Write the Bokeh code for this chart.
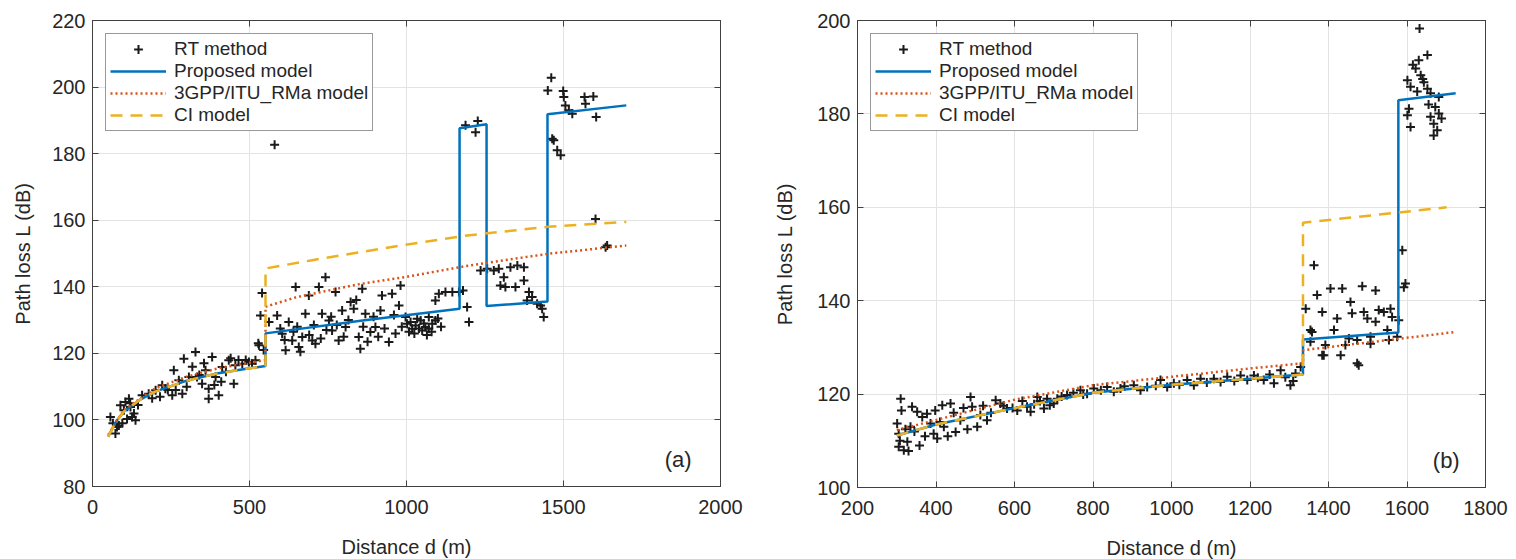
from bokeh.plotting import figure
from bokeh.layouts import row
from bokeh.models import LinearAxis, Range1d, Label, FixedTicker
from bokeh.embed import file_html
from bokeh.resources import INLINE

# ---------------- Panel (a) data ----------------
rt_a_d = [57, 73, 78, 84, 89, 100, 105, 110, 116, 121, 126, 132, 137, 158, 179, 201, 222, 232, 254, 259,
          275, 286, 291, 307, 328, 333, 349, 360, 370, 370, 381, 392, 402, 413, 434, 450, 455, 477, 498, 508,
          519, 530, 535, 540, 528, 562, 580, 588, 604, 615, 625, 636, 647, 657, 668, 678, 689, 700, 710, 721,
          731, 742, 753, 763, 774, 784, 795, 806, 822, 832, 848, 853, 859, 869, 885, 901, 917, 922, 944, 954,
          976, 981, 997, 1002, 1013, 1018, 1029, 1034, 1045, 1050, 1060, 1071, 1071, 1082, 1092, 1092, 1103, 1124, 1146, 1167,
          1180, 1193, 1199, 1188, 1227, 1220, 1236, 1257, 1278, 1294, 1299, 1310, 1315, 1331, 1347, 1353, 1374, 1374, 1384, 1390,
          1400, 1416, 1427, 1432, 1437, 1450, 1461, 1464, 1469, 1480, 1491, 1499, 1501, 1506, 1517, 1528, 1567, 1570, 1595, 1602,
          1604, 1634, 1639]
rt_a_L = [100.9, 95.9, 97.9, 98.3, 104.4, 102.9, 105.4, 100.3, 106.4, 103.9, 100.9, 101.9, 99.9, 107.4, 107.9, 108.9, 110.4, 109.4, 107.4, 114.9,
          111.9, 107.9, 118.4, 112.9, 120.4, 112.9, 110.9, 114.9, 109.4, 106.4, 118.9, 112.9, 107.4, 115.9, 117.9, 110.9, 116.4, 116.9, 117.4, 116.9,
          117.9, 122.4, 131.4, 138.1, 123.0, 129.4, 182.7, 131.4, 125.9, 120.9, 129.4, 123.9, 139.9, 121.9, 124.9, 131.9, 137.4, 123.9, 122.9, 139.9,
          131.9, 142.9, 129.9, 126.9, 138.4, 123.9, 132.9, 127.9, 135.4, 133.4, 124.9, 121.4, 139.4, 131.9, 126.4, 127.9, 132.9, 137.4, 123.4, 137.9,
          134.4, 140.4, 130.9, 128.9, 129.4, 127.4, 128.4, 130.4, 129.9, 126.9, 127.9, 130.9, 127.4, 128.9, 135.9, 129.9, 137.9, 138.4, 138.4, 138.4,
          138.9, 133.9, 129.4, 188.5, 189.8, 186.4, 144.9, 145.4, 144.9, 145.4, 140.4, 142.9, 139.9, 145.9, 139.9, 146.4, 145.9, 141.9, 135.9, 138.4,
          136.9, 134.9, 134.4, 133.4, 130.9, 199.0, 202.8, 184.5, 184.0, 181.0, 179.5, 198.8, 197.0, 194.5, 193.0, 192.0, 197.0, 195.0, 197.2, 160.4,
          191.0, 151.9, 152.4]
rt_a_d_more = [65, 95, 120, 145, 190, 215, 240, 265, 300, 318, 340, 355, 388, 410, 425, 440, 465, 488, 545,
               598, 612, 640, 652, 662, 690, 705, 727, 745, 760, 778, 800, 815, 840, 862, 876, 895, 910, 930, 960,
               965, 985, 1008, 1025, 1040, 1055, 1065, 1080, 1100, 1110]
rt_a_L_more = [99.0, 99.0, 105.0, 104.5, 106.5, 107.0, 109.0, 109.0, 110.0, 116.0, 113.5, 117.0, 110.5, 111.5, 114.5, 118.5, 118.0, 118.0, 121.0,
               127.5, 124.0, 126.5, 128.0, 120.5, 125.5, 128.5, 124.5, 127.0, 131.0, 128.5, 125.0, 130.0, 136.0, 128.0, 123.5, 131.0, 125.0, 127.5, 131.5,
               126.0, 128.0, 126.5, 126.0, 127.5, 129.0, 125.5, 126.5, 130.5, 128.0]

prop_a_d = [50, 75, 100, 150, 200, 300, 400, 500, 551, 551, 860, 1169, 1169, 1255, 1255, 1449, 1449, 1700]
prop_a_L = [95.0, 99.5, 102.5, 106.0, 108.5, 111.8, 114.0, 115.5, 116.2, 126.0, 129.9, 133.4, 187.6, 188.8, 134.2, 135.6, 191.8, 194.5]

gpp_a_d = [50, 100, 200, 300, 400, 500, 551, 551, 650, 850, 1000, 1200, 1450, 1700]
gpp_a_L = [95.5, 103.0, 109.5, 113.0, 115.5, 117.2, 118.0, 134.0, 136.9, 140.8, 143.0, 146.4, 149.9, 152.4]

ci_a_d = [50, 75, 100, 150, 200, 300, 400, 500, 551, 551, 700, 981, 1193, 1448, 1700]
ci_a_L = [95.0, 99.5, 102.5, 106.0, 108.5, 111.8, 114.0, 115.5, 116.2, 145.5, 148.0, 152.4, 155.4, 158.0, 159.5]

# ---------------- Panel (b) data ----------------
rt_b_d = [301, 305, 305, 310, 318, 327, 335, 339, 352, 365, 377, 386, 394, 403, 416, 420, 437, 450, 462, 488,
          492, 505, 513, 530, 552, 564, 581, 607, 632, 641, 658, 675, 683, 700, 709, 734, 768, 785, 802, 836,
          853, 870, 904, 921, 938, 972, 989, 1006, 1040, 1057, 1074, 1108, 1125, 1142, 1176, 1193, 1210, 1235, 1261, 1278,
          1303, 1316, 1329, 1358, 1384,
          1652, 1630, 1622, 1635, 1601, 1643, 1652, 1609, 1660, 1681, 1605, 1601, 1609, 1660, 1681, 1668, 1677, 1668, 1632,
          1588, 1592, 1596, 1363, 1405, 1435, 1486, 1520, 1371, 1342, 1456, 1384, 1422, 1460, 1490, 1499, 1520, 1528, 1541, 1558,
          1562, 1579, 1354, 1414, 1452, 1507, 1550, 1354, 1392, 1443, 1473, 1507, 1554, 1575, 1388, 1431, 1473, 1477]
rt_b_L = [113.7, 111.5, 108.7, 119.0, 108.0, 109.8, 113.0, 117.3, 116.2, 115.1, 115.8, 113.7, 111.5, 110.5, 117.6, 113.0, 118.0, 111.9, 114.4, 119.4,
          117.3, 113.0, 115.5, 114.4, 118.7, 118.0, 116.9, 116.5, 117.3, 116.2, 119.4, 116.9, 119.0, 118.0, 119.0, 119.8, 120.8, 120.1, 121.2, 121.5,
          120.5, 121.2, 121.9, 120.8, 121.5, 123.0, 121.5, 122.3, 123.0, 121.9, 123.3, 123.3, 122.6, 123.7, 124.0, 123.0, 124.0, 123.0, 122.3, 125.1,
          121.9, 124.4, 125.8, 133.3, 128.3,
          192.6, 191.5, 189.7, 188.3, 187.2, 186.8, 185.4, 185.8, 184.4, 183.6, 181.1, 179.7, 177.2, 179.4, 180.1, 177.9, 176.5, 175.4, 198.3,
          150.8, 142.9, 143.7, 147.6, 142.6, 142.6, 143.1, 142.2, 141.2, 138.3, 139.7, 137.6, 136.2, 137.3, 137.6, 136.2, 135.5, 138.0, 137.6, 138.3,
          136.5, 135.8, 133.7, 133.7, 131.9, 132.3, 133.7, 131.2, 130.5, 130.5, 131.6, 130.8, 131.6, 132.3, 128.3, 128.3, 126.6, 126.2]
rt_b_d_more = [308, 312, 322, 330, 345, 358, 372, 398, 410, 430, 445, 470, 480, 520, 540, 572, 595, 620, 650, 665,
               690, 720, 750, 775, 820, 880, 960, 1020, 1090, 1160, 1220, 1250, 1290, 1310,
               1615, 1640, 1626, 1655, 1672, 1688]
rt_b_L_more = [110.0, 116.5, 112.5, 107.8, 112.0, 109.0, 111.0, 116.5, 114.0, 111.0, 116.0, 117.0, 112.5, 117.5, 116.0, 117.5, 117.0, 118.5, 117.8, 118.5,
               117.6, 119.5, 120.3, 119.9, 120.8, 121.7, 121.8, 122.0, 122.5, 122.8, 123.5, 124.2, 123.6, 122.8,
               190.5, 187.5, 184.8, 182.0, 181.5, 179.0]

prop_b_d = [300, 400, 600, 800, 1000, 1200, 1335, 1335, 1578, 1578, 1724]
prop_b_L = [111.1, 113.5, 117.0, 120.3, 122.0, 123.3, 124.2, 131.7, 133.2, 182.9, 184.4]

gpp_b_d = [300, 430, 600, 800, 1000, 1200, 1335, 1335, 1724]
gpp_b_L = [112.3, 115.1, 118.8, 121.9, 123.7, 125.5, 126.6, 129.4, 133.3]

ci_b_d = [300, 400, 600, 800, 1000, 1200, 1335, 1335, 1701]
ci_b_L = [111.1, 113.5, 117.0, 120.3, 122.0, 123.3, 124.2, 156.7, 160.0]

xticks_a = [0, 500, 1000, 1500, 2000]
yticks_a = [80, 100, 120, 140, 160, 180, 200, 220]
xticks_b = [200, 400, 600, 800, 1000, 1200, 1400, 1600, 1800]
yticks_b = [100, 120, 140, 160, 180, 200]

FONT = "Liberation Sans"
AX = "#404040"
TXT = "#262626"


def style_axis(ax, ticks, show_labels=True):
    ax.ticker = FixedTicker(ticks=ticks)
    ax.major_tick_in = 6
    ax.major_tick_out = 0
    ax.minor_tick_line_color = None
    ax.axis_line_color = AX
    ax.major_tick_line_color = AX
    ax.major_label_text_font = FONT
    if show_labels:
        ax.major_label_text_color = TXT
        ax.major_label_text_font_size = "20px"
    else:
        ax.major_label_text_color = None
        ax.major_label_text_font_size = "1px"
        ax.major_label_standoff = 0
    ax.axis_label_text_font = FONT
    ax.axis_label_text_font_size = "20px"
    ax.axis_label_text_font_style = "normal"
    ax.axis_label_text_color = TXT


def make(xr, yr, xt, yt, borders, fh, rt, prop, gpp, ci, tag, tagpos, ylab_standoff):
    bl, br, bt, bb = borders
    p = figure(frame_width=628, frame_height=fh, x_range=Range1d(*xr), y_range=Range1d(*yr),
               output_backend="svg", toolbar_location=None,
               min_border_left=bl, min_border_right=br, min_border_top=bt, min_border_bottom=bb)
    p.background_fill_color = "white"
    p.border_fill_color = "white"
    p.outline_line_color = AX
    p.outline_line_width = 1
    style_axis(p.xaxis[0], xt)
    style_axis(p.yaxis[0], yt)
    p.xaxis[0].axis_label = "Distance d (m)"
    p.xaxis[0].major_label_standoff = 13
    p.xaxis[0].axis_label_standoff = 19
    p.yaxis[0].axis_label = "Path loss L (dB)"
    p.yaxis[0].major_label_standoff = 7
    p.yaxis[0].axis_label_standoff = ylab_standoff
    top = LinearAxis()
    style_axis(top, xt, show_labels=False)
    p.add_layout(top, "above")
    right = LinearAxis()
    style_axis(right, yt, show_labels=False)
    p.add_layout(right, "right")
    p.grid.grid_line_color = "#e3e3e3"
    p.grid.grid_line_width = 1

    p.scatter(rt[0], rt[1], marker="cross", size=9, line_width=2, color="#1a1a1a",
              legend_label="RT method")
    p.line(prop[0], prop[1], color="#0072BD", line_width=2.5, legend_label="Proposed model")
    p.line(gpp[0], gpp[1], color="#D95319", line_width=2.5, line_dash="2 3",
           legend_label="3GPP/ITU_RMa model")
    p.line(ci[0], ci[1], color="#EDB120", line_width=2.5, line_dash="12 8",
           legend_label="CI model")

    lg = p.legend[0]
    lg.location = "top_left"
    lg.margin = 13
    lg.padding = 4
    lg.spacing = 0
    lg.glyph_width = 56
    lg.glyph_height = 22
    lg.label_height = 22
    lg.label_standoff = 8
    lg.label_text_font = FONT
    lg.label_text_font_size = "19px"
    lg.label_text_color = TXT
    lg.border_line_color = "#333333"
    lg.border_line_width = 1
    lg.background_fill_alpha = 1.0

    p.add_layout(Label(x=tagpos[0], y=tagpos[1], text=tag, text_font=FONT, text_font_size="22px",
                       text_color=TXT, text_align="center", text_baseline="middle"))
    return p


p1 = make((0, 2000), (80, 220), xticks_a, yticks_a, (92, 40, 20, 73), 466,
          (rt_a_d + rt_a_d_more, rt_a_L + rt_a_L_more), (prop_a_d, prop_a_L),
          (gpp_a_d, gpp_a_L), (ci_a_d, ci_a_L),
          "(a)", (1865, 88), 15)
p2 = make((200, 1800), (100, 200), xticks_b, yticks_b, (97, 31, 17, 75), 467,
          (rt_b_d + rt_b_d_more, rt_b_L + rt_b_L_more), (prop_b_d, prop_b_L),
          (gpp_b_d, gpp_b_L), (ci_b_d, ci_b_L),
          "(b)", (1700, 105.8), 18)

layout = row(p1, p2)
open("out.html", "w").write(file_html(layout, INLINE))
